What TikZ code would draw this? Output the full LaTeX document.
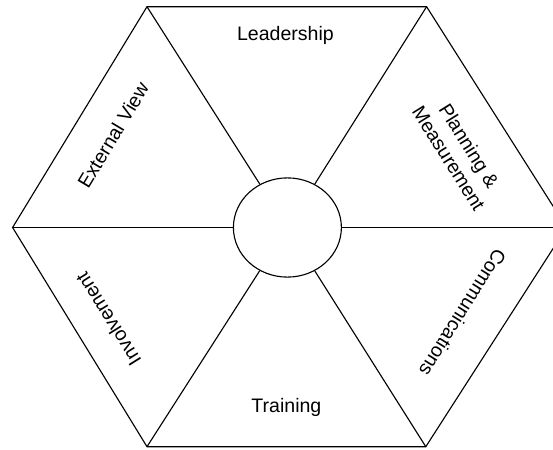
\documentclass[tikz,border=0pt]{standalone}
\usepackage{fontspec}
\setmainfont{Liberation Sans}
\usetikzlibrary{positioning, shapes.geometric}
\tikzset{
	rim/.style={
		draw,
		line width=0.8pt,
		line join=miter,
	},
	hub/.style={
		ellipse,
		draw,
		line width=0.8pt,
		inner sep=0pt,
		minimum width=2.7cm,
		minimum height=2.48cm,
	},
	sector/.style={
		inner sep=0pt,
		align=center,
		font=\fontsize{13.9}{17}\selectfont,
	},
}
\begin{document}
\begin{tikzpicture}[node distance = 2cm]
		\useasboundingbox (-7.175,-5.5375) rectangle (6.65,5.6875);
		% Corners of the hexagon
		\coordinate (tl) at (-3.5,5.52);
		\coordinate (tr) at (3.49,5.52);
		\coordinate (r) at (6.99,0);
		\coordinate (br) at (3.47,-5.48);
		\coordinate (bl) at (-3.5,-5.48);
		\coordinate (l) at (-6.86,0);
		
		\node [hub] (hub) at (0.01,0) {};
		
		\draw [rim] (tl) -- (tr) -- (r) -- (br) -- (bl) -- (l) -- cycle;
		
		% Spokes
		\draw [rim] (tl) -- (hub);
		\draw [rim] (tr) -- (hub);
		\draw [rim] (r) -- (hub);
		\draw [rim] (br) -- (hub);
		\draw [rim] (bl) -- (hub);
		\draw [rim] (l) -- (hub);
		
		% Texts of the sectors
		\node [sector] (lead) at (-0.04,4.79) {Leadership};
		\node [sector, rotate=-58] (plan) at (4.3,1.89) {Planning \&\\Measurement};
		\node [sector, rotate=-122] (comm) at (4.4,-2.14) {Communications};
		\node [sector] (train) at (-0.015,-4.5) {Training};
		\node [sector, rotate=122] (invol) at (-4.47,-2.29) {Involvement};
		\node [sector, rotate=59] (ext) at (-4.35,2.31) {External View};

	\end{tikzpicture}
\end{document}
